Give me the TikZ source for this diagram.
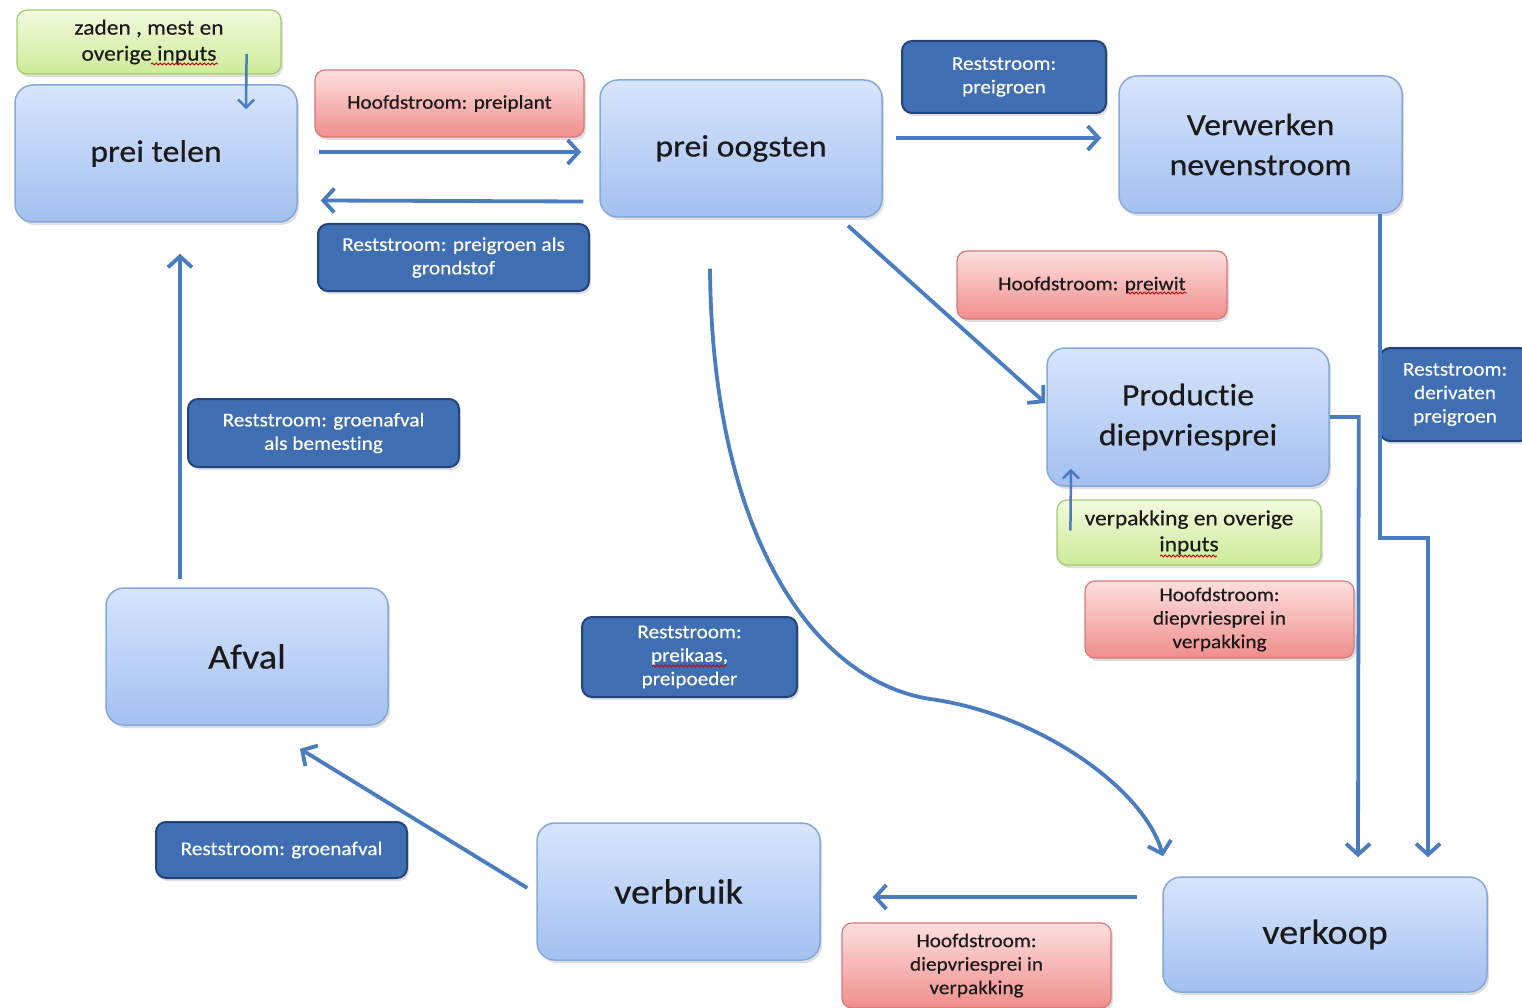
\documentclass[tikz,border=0pt]{standalone}
\usepackage{fontspec}
\setmainfont{Carlito}[FakeStretch=1.09, FakeBold=0.4, Ligatures=NoCommon]
\usetikzlibrary{arrows.meta,calc,shadows,decorations.pathmorphing}
\definecolor{bigtop}{HTML}{D8E5FC}
\definecolor{bigbot}{HTML}{A3C0F0}
\definecolor{bigborder}{HTML}{86A9DC}
\definecolor{redtop}{HTML}{FDE0DF}
\definecolor{redbot}{HTML}{F08E8C}
\definecolor{redborder}{HTML}{D47A78}
\definecolor{greentop}{HTML}{F2FBDD}
\definecolor{greenbot}{HTML}{CDEB98}
\definecolor{greenborder}{HTML}{A5CC6E}
\definecolor{darkfill}{HTML}{3F6EB3}
\definecolor{darkborder}{HTML}{23447A}
\definecolor{arrowc}{HTML}{4A7CC0}
\definecolor{txt}{HTML}{1A1A1A}
\tikzset{
  shade/.style={drop shadow={opacity=0.25, shadow xshift=2pt, shadow yshift=-3pt}},
  bigbox/.style={rectangle, rounded corners=18pt, draw=bigborder, line width=1.5pt,
    top color=bigtop, bottom color=bigbot, align=center, text=txt, inner sep=0pt,
    font=\fontsize{31}{40}\selectfont, shade},
  bigboxL/.style={bigbox, font=\fontsize{35}{42}\selectfont},
  redbox/.style={rectangle, rounded corners=10pt, draw=redborder, line width=1.2pt,
    top color=redtop, bottom color=redbot, align=center, text=txt, inner sep=0pt,
    font=\fontsize{19.5}{23.5}\selectfont, shade},
  greenbox/.style={rectangle, rounded corners=10pt, draw=greenborder, line width=1.2pt,
    top color=greentop, bottom color=greenbot, align=center, text=txt, inner sep=0pt,
    font=\fontsize{21.5}{26}\selectfont, shade},
  darkbox/.style={rectangle, rounded corners=10pt, draw=darkborder, line width=2pt,
    fill=darkfill, align=center, text=white, inner sep=0pt,
    font=\fontsize{19.5}{23.5}\selectfont, shade},
  flow/.style={draw=arrowc, line width=3.8pt, -{Straight Barb[length=11pt,width=24pt]}},
  thinflow/.style={draw=arrowc, line width=2.5pt, -{Straight Barb[length=8pt,width=16pt]}},
  squig/.style={draw=red!80!black, line width=0.8pt, decorate,
    decoration={snake, amplitude=1.1pt, segment length=4pt}}
}
\begin{document}
\begin{tikzpicture}[x=1pt,y=-1pt]
\useasboundingbox[fill=white] (0,0) rectangle (1522,1008);

% main process boxes
\node[bigbox, minimum width=282, minimum height=137] (telen) at (156,153.5) {prei telen};
\node[bigbox, minimum width=282, minimum height=137] (oogsten) at (741,148.5) {prei oogsten};
\node[bigbox, minimum width=283, minimum height=137] (verw) at (1260.5,144.5) {Verwerken\\nevenstroom};
\node[bigbox, minimum width=282, minimum height=138] (prod) at (1188,417) {Productie\\diepvriesprei};
\node[bigboxL, minimum width=324, minimum height=115] (verkoop) at (1325,934.5) {verkoop};
\node[bigboxL, minimum width=283, minimum height=137] (verbruik) at (678.5,891.5) {verbruik};
\node[bigboxL, minimum width=282, minimum height=137] (afval) at (247,656.5) {Afval};

% label boxes
\node[greenbox, minimum width=264, minimum height=64] (zaden) at (149,42) {zaden , mest en\\overige inputs};
\node[redbox, minimum width=269, minimum height=67] (hpreiplant) at (449.5,103.5) {Hoofdstroom: preiplant};
\node[darkbox, minimum width=271, minimum height=67] (rgrondstof) at (453.5,257.5) {Reststroom: preigroen als\\grondstof};
\node[darkbox, minimum width=204, minimum height=72] (rpreigroen) at (1004,77) {Reststroom:\\preigroen};
\node[redbox, minimum width=270, minimum height=68] (hpreiwit) at (1092,285) {Hoofdstroom: preiwit};
\node[greenbox, minimum width=264, minimum height=65] (verp) at (1189,532.5) {verpakking en overige\\inputs};
\node[redbox, minimum width=269, minimum height=77] (hdiep1) at (1219.5,619.5) {Hoofdstroom:\\diepvriesprei in\\verpakking};
\node[darkbox, minimum width=150, minimum height=93] (rderiv) at (1455,394.5) {Reststroom:\\derivaten\\preigroen};
\node[redbox, minimum width=269, minimum height=85] (hdiep2) at (976.5,965.5) {Hoofdstroom:\\diepvriesprei in\\verpakking};
\node[darkbox, minimum width=271, minimum height=68] (rbemest) at (323.5,433) {Reststroom: groenafval\\als bemesting};
\node[darkbox, minimum width=215, minimum height=80] (rkaas) at (689.5,657) {Reststroom:\\preikaas,\\preipoeder};
\node[darkbox, minimum width=251, minimum height=56] (rgroen) at (281.5,850) {Reststroom: groenafval};

% spelling squiggles
\draw[squig] (151,64) -- (218,64);
\draw[squig] (1127,293) -- (1187,293);
\draw[squig] (1160,556) -- (1217,556);
\draw[squig] (652,666) -- (727,666);

% connectors
\draw[flow] ($(telen.east)+(21,-1.5)$) -- ($(oogsten.west)+(-18,3.5)$);
\draw[flow] ($(oogsten.west)+(-16,53)$) -- ($(telen.east)+(23,47)$);
\draw[flow] ($(oogsten.east)+(13,-10.5)$) -- ($(verw.west)+(-17,-6.5)$);
\draw[flow] ($(oogsten.south)+(107,8)$) -- ($(prod.west)+(-1,-14)$);
\draw[flow] (prod.east) -- ++(29,0) -- ($(verkoop.north)+(33,-19)$);
\draw[flow] ($(verw.south)+(119.5,0)$) -- ++(0,324) -- ++(48,0) -- ($(verkoop.north)+(103,-19)$);
\draw[flow] ($(verkoop.west)+(-25,-37.5)$) -- ($(verbruik.east)+(52,5.5)$);
\draw[flow] ($(verbruik.west)+(-9,-3.5)$) -- ($(afval.south)+(53,23)$);
\draw[flow] ($(afval.north)+(-67,-8)$) -- ($(telen.south)+(24,31)$);
\draw[flow] ($(oogsten.south)+(-31,51)$) .. controls (712,530) and (810,680) .. (930,699)
  .. controls (1040,714) and (1145,790) .. ($(verkoop.north)+(-162,-20)$);
\draw[thinflow] ($(zaden.east)+(-35,12)$) -- ($(telen.north)+(90,25)$);
\draw[thinflow] ($(verp.west)+(14,-2)$) -- ($(prod.south)+(-117,-18)$);
\end{tikzpicture}
\end{document}
